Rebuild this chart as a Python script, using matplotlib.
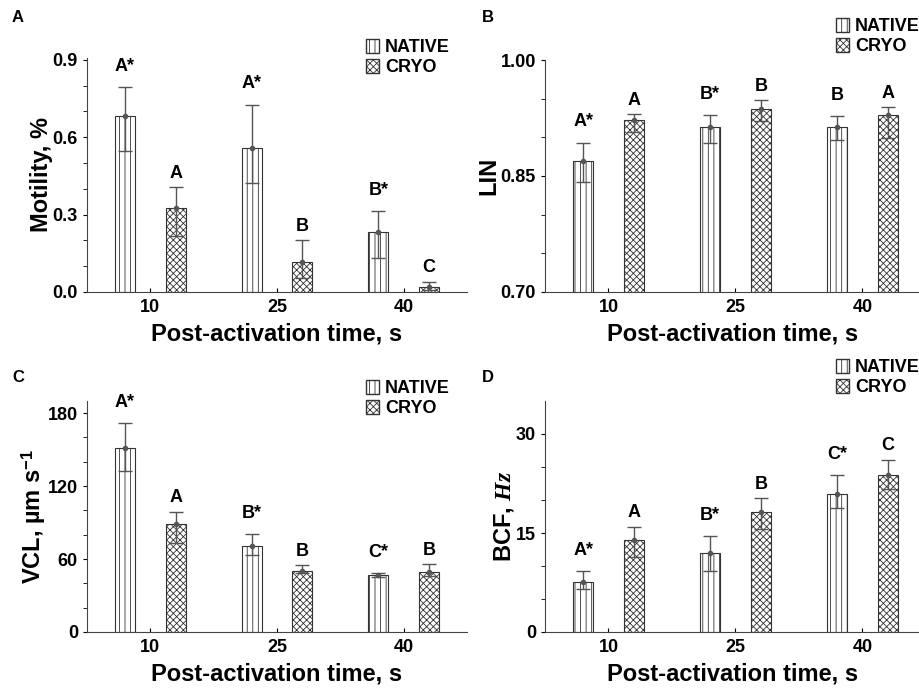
import matplotlib
matplotlib.use('Agg')
import matplotlib.pyplot as plt
import matplotlib.patches as mpatches
import numpy as np

plt.rcParams['font.family'] = 'Liberation Sans'
plt.rcParams['font.weight'] = 'bold'
plt.rcParams['mathtext.fontset'] = 'custom'
plt.rcParams['mathtext.sf'] = 'Liberation Sans:bold'
plt.rcParams['mathtext.it'] = 'Liberation Serif:bold:italic'
plt.rcParams['mathtext.rm'] = 'Liberation Sans:bold'
plt.rcParams['hatch.linewidth'] = 0.6

tiempos = [10, 25, 40]

# A - motility
mot_nat = [0.684, 0.558, 0.232]
mot_nat_hi = [0.793, 0.726, 0.314]
mot_nat_lo = [0.545, 0.422, 0.132]
mot_cryo = [0.325, 0.118, 0.019]
mot_cryo_hi = [0.407, 0.201, 0.040]
mot_cryo_lo = [0.216, 0.054, 0.009]
mot_let_nat = ['A*', 'A*', 'B*']
mot_let_cryo = ['A', 'B', 'C']

# B - LIN
lin_nat = [0.870, 0.9135, 0.914]
lin_nat_hi = [0.893, 0.929, 0.927]
lin_nat_lo = [0.842, 0.893, 0.896]
lin_cryo = [0.9226, 0.937, 0.9286]
lin_cryo_hi = [0.930, 0.948, 0.939]
lin_cryo_lo = [0.907, 0.921, 0.899]
lin_let_nat = ['A*', 'B*', 'B']
lin_let_cryo = ['A', 'B', 'A']

# C - VCL
vcl_nat = [151.4, 70.4, 46.9]
vcl_nat_hi = [171.8, 80.4, 48.5]
vcl_nat_lo = [132.8, 63.0, 45.0]
vcl_cryo = [88.6, 50.5, 49.1]
vcl_cryo_hi = [99.0, 55.1, 55.6]
vcl_cryo_lo = [73.6, 48.3, 46.4]
vcl_let_nat = ['A*', 'B*', 'C*']
vcl_let_cryo = ['A', 'B', 'B']

# D - BCF
bcf_nat = [7.56, 12.0, 20.98]
bcf_nat_hi = [9.17, 14.47, 23.75]
bcf_nat_lo = [6.45, 9.18, 18.76]
bcf_cryo = [13.97, 18.25, 23.8]
bcf_cryo_hi = [15.98, 20.3, 26.1]
bcf_cryo_lo = [11.35, 15.6, 21.6]
bcf_let_nat = ['A*', 'B*', 'C*']
bcf_let_cryo = ['A', 'B', 'C']

W, H = 920, 688
fig = plt.figure(figsize=(W / 100, H / 100), dpi=100)


def px(l, t, r, b):
    return [l / W, 1 - b / H, (r - l) / W, (b - t) / H]


def barras(ax, x, vals, hi, lo, hatch, letras, offset):
    x = np.asarray(x, dtype=float)
    vals = np.asarray(vals)
    err = [vals - np.asarray(lo), np.asarray(hi) - vals]
    ax.bar(x, vals, width=2.4, color='white', edgecolor='#333333',
           linewidth=0.8, hatch=hatch, zorder=2)
    ax.errorbar(x, vals, yerr=err, fmt='o', color='#555555', ms=3,
                elinewidth=1.0, capsize=5, capthick=1.0, zorder=3)
    for xi, h, letra in zip(x, hi, letras):
        ax.annotate(letra, (xi, h), xytext=(0, offset), textcoords='offset points',
                    ha='center', va='center', fontsize=13, fontweight='bold')


def panel(pos, letra, pos_letra, nat, nat_hi, nat_lo, cryo, cryo_hi, cryo_lo,
          let_nat, let_cryo, ylim, major, minor, ylabel, fmt, xmax, leg_xy):
    ax = fig.add_axes(pos)
    t = np.array(tiempos, dtype=float)
    barras(ax, t - 3, nat, nat_hi, nat_lo, '|||', let_nat, 15)
    barras(ax, t + 3, cryo, cryo_hi, cryo_lo, 'xxxxx', let_cryo, 10)
    ax.set_xlim(2.5, xmax)
    ax.set_ylim(*ylim)
    ax.set_xticks(tiempos)
    ax.set_yticks(major)
    ax.set_yticks(minor, minor=True)
    ax.set_yticklabels([fmt.format(v) for v in major])
    ax.tick_params(axis='x', direction='in', length=3, labelsize=13, pad=5)
    ax.tick_params(axis='y', which='both', direction='out', length=3, labelsize=13)
    for s in ['top', 'right']:
        ax.spines[s].set_visible(False)
    for s in ['left', 'bottom']:
        ax.spines[s].set_color('#444444')
        ax.spines[s].set_linewidth(0.8)
    for lab in ax.get_xticklabels() + ax.get_yticklabels():
        lab.set_fontweight('bold')
    ax.set_xlabel('Post-activation time, s', fontsize=17, fontweight='bold', labelpad=5)
    ax.set_ylabel(ylabel, fontsize=17, fontweight='bold', labelpad=0)
    fig.text(pos_letra[0] / W, 1 - pos_letra[1] / H, letra, fontsize=12,
             fontweight='bold', va='center', ha='left')
    h1 = mpatches.Patch(facecolor='white', edgecolor='#333333', hatch='|||', label='NATIVE')
    h2 = mpatches.Patch(facecolor='white', edgecolor='#333333', hatch='xxxxx', label='CRYO')
    ax.legend(handles=[h1, h2], loc='upper left',
              bbox_to_anchor=(leg_xy[0] / W, 1 - leg_xy[1] / H),
              bbox_transform=fig.transFigure, frameon=False, borderpad=0,
              borderaxespad=0, handlelength=0.7, handleheight=0.8,
              handletextpad=0.35, labelspacing=0.15,
              prop={'size': 13, 'weight': 'bold'})
    return ax


panel(px(87, 58, 467, 292), 'A', (12, 18),
      mot_nat, mot_nat_hi, mot_nat_lo, mot_cryo, mot_cryo_hi, mot_cryo_lo,
      mot_let_nat, mot_let_cryo, (0, 0.907), [0, 0.3, 0.6, 0.9],
      np.arange(0, 0.91, 0.1), 'Motility, %', '{:.1f}', 47.5, (366, 39))

panel(px(545, 60, 920, 292), 'B', (482, 18),
      lin_nat, lin_nat_hi, lin_nat_lo, lin_cryo, lin_cryo_hi, lin_cryo_lo,
      lin_let_nat, lin_let_cryo, (0.70, 1.0), [0.70, 0.85, 1.00],
      np.arange(0.70, 1.001, 0.05), 'LIN', '{:.2f}', 46.8, (836, 18))

panel(px(87, 401, 467, 632), 'C', (12, 378),
      vcl_nat, vcl_nat_hi, vcl_nat_lo, vcl_cryo, vcl_cryo_hi, vcl_cryo_lo,
      vcl_let_nat, vcl_let_cryo, (0, 190), [0, 60, 120, 180],
      np.arange(0, 181, 20), r'VCL, µm s$^{\mathsf{-1}}$', '{:.0f}', 47.5, (366, 380))

panel(px(545, 401, 920, 632), 'D', (482, 378),
      bcf_nat, bcf_nat_hi, bcf_nat_lo, bcf_cryo, bcf_cryo_hi, bcf_cryo_lo,
      bcf_let_nat, bcf_let_cryo, (0, 35), [0, 15, 30],
      np.arange(0, 31, 5), r'BCF, $\mathit{Hz}$', '{:.0f}', 46.8, (836, 359))

fig.savefig('out.png', dpi=100)
